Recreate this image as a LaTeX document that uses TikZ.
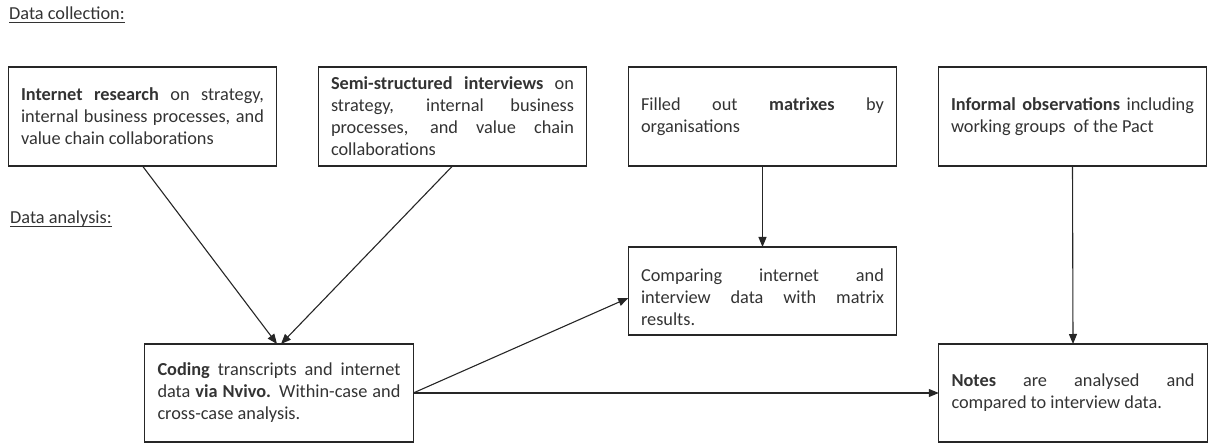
\documentclass[tikz,border=0pt]{standalone}
\usepackage{fontspec}
\setmainfont{Carlito}
\usetikzlibrary{arrows.meta}
\begin{document}
\begin{tikzpicture}[x=1pt,y=-1pt,
  every node/.style={font=\fontsize{18.3}{22}\selectfont, text=black!80},
  box/.style={draw=black!85, line width=1.1pt, inner xsep=12.75pt, inner ysep=0pt,
    outer sep=0pt, text width=243pt, align=justify, minimum height=99pt},
  flow/.style={draw=black!85, line width=1.1pt, -{Triangle[length=10pt,width=8pt]}},
  heading/.style={anchor=base west, inner sep=0pt},
  rulestyle/.style={draw=black!80, line width=0.9pt}]
\useasboundingbox (0,0) rectangle (1213,443);

% section headings
\node[heading] (dc) at (9,20) {Data collection:};
\node[heading] (da) at (10,224) {Data analysis:};
\draw[rulestyle] ([yshift=-2.2pt]dc.base west) -- ([yshift=-2.2pt]dc.base east);
\draw[rulestyle] ([yshift=-2.2pt]da.base west) -- ([yshift=-2.2pt]da.base east);

% data collection
\node[box] (b1) at (142.5,116.5) {\textbf{Internet research} on strategy,\linebreak
  internal business processes, and\linebreak value chain collaborations};
\node[box] (b2) at (452.5,116.5) {\textbf{Semi-structured interviews} on\linebreak
  strategy, internal business\linebreak processes, and value chain\linebreak collaborations};
\node[box] (b3) at (762.5,116.5) {Filled out \textbf{matrixes} by\linebreak organisations};
\node[box] (b4) at (1072.5,116.5) {\textbf{Informal observations} including\linebreak
  working groups\ \ of the Pact};

% data analysis
\node[box, minimum height=98pt] (b5) at (279,393) {\textbf{Coding} transcripts and internet\linebreak
  data \textbf{via Nvivo.} Within-case and\linebreak cross-case analysis.};
\node[box, minimum height=88pt] (b6) at (762.5,291) {\rule{0pt}{26pt}Comparing internet and\linebreak
  interview data with matrix\linebreak results.};
\node[box, minimum height=98pt] (b7) at (1073,393) {\textbf{Notes} are analysed and\linebreak
  compared to interview data.};

% connectors
\draw[flow] (b1.south) -- ([xshift=-2pt]b5.north);
\draw[flow] (b2.south) -- ([xshift=2pt]b5.north);
\draw[flow] (b3.south) -- (b6.north);
\draw[flow] (b4.south) -- (b7.north);
\draw[flow] (b5.east) -- ([yshift=-7pt]b6.west);
\draw[flow] (b5.east) -- (b7.west);
\end{tikzpicture}
\end{document}
